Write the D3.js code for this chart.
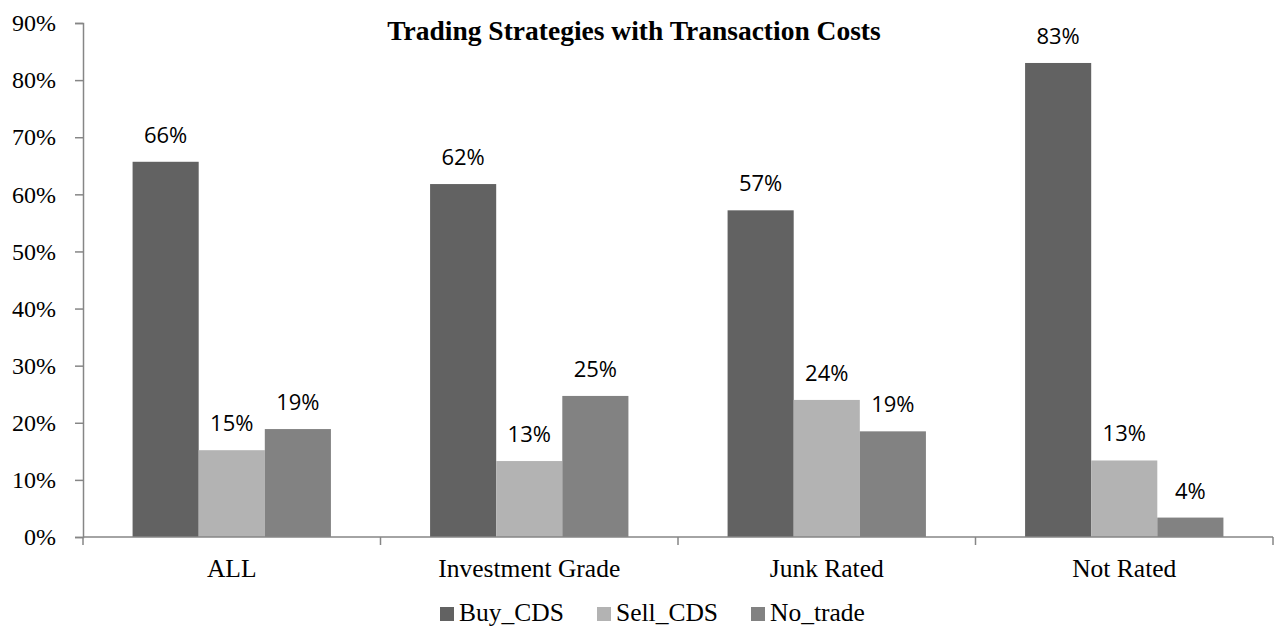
<!DOCTYPE html>
<html><head><meta charset="utf-8">
<script src="https://cdn.jsdelivr.net/npm/d3@7"></script>
<style>html,body{margin:0;padding:0;background:#fff;}svg{display:block;}</style>
</head><body><div id="chart"></div>
<script>
const categories = ["ALL", "Investment Grade", "Junk Rated", "Not Rated"];
const seriesNames = ["Buy_CDS", "Sell_CDS", "No_trade"];
const buyCDS = [0.657, 0.618, 0.572, 0.830];
const sellCDS = [0.152, 0.133, 0.240, 0.134];
const noTrade = [0.189, 0.247, 0.185, 0.034];
const valueLabels = [["66%", "15%", "19%"], ["62%", "13%", "25%"], ["57%", "24%", "19%"], ["83%", "13%", "4%"]];
const yTicks = [0, 0.1, 0.2, 0.3, 0.4, 0.5, 0.6, 0.7, 0.8, 0.9];
const title = "Trading Strategies with Transaction Costs";
const colors = ["#626262", "#b3b3b3", "#828282"];

const W = 1276, H = 635;
const svg = d3.select("#chart").append("svg").attr("width", W).attr("height", H);
const m = {left: 83, right: 3, top: 23, bottom: 98};
const x0 = d3.scaleBand().domain(categories).range([m.left, W - m.right]).paddingInner(1/3).paddingOuter(1/6);
const x1 = d3.scaleBand().domain(seriesNames).range([0, x0.bandwidth()]);
const y = d3.scaleLinear().domain([0, 0.9]).range([H - m.bottom, m.top]);
const color = d3.scaleOrdinal().domain(seriesNames).range(colors);
const seriesValues = [buyCDS, sellCDS, noTrade];

const data = categories.map((c, i) => ({cat: c, vals: seriesNames.map((s, j) => ({s, v: seriesValues[j][i], lab: valueLabels[i][j]}))}));

const axisColor = "#868686";
const serif = "'Liberation Serif','Times New Roman',serif";
// Y axis
const yAxis = d3.axisLeft(y).tickValues(yTicks).tickFormat(d3.format(".0%")).tickSize(8).tickPadding(19);
const gy = svg.append("g").attr("transform", `translate(${m.left},0)`).call(yAxis);
gy.select(".domain").attr("stroke", axisColor).attr("stroke-width", 1.5);
gy.selectAll(".tick line").attr("stroke", axisColor).attr("stroke-width", 1.5);
gy.selectAll(".tick text").attr("font-family", serif).attr("font-size", 24).attr("fill", "#000");

// Bars
const groups = svg.append("g").selectAll("g").data(data).join("g")
  .attr("transform", d => `translate(${x0(d.cat)},0)`);
groups.selectAll("rect").data(d => d.vals).join("rect")
  .attr("x", d => x1(d.s)).attr("width", x1.bandwidth())
  .attr("y", d => y(d.v)).attr("height", d => y(0) - y(d.v))
  .attr("fill", d => color(d.s));
groups.selectAll("text").data(d => d.vals).join("text")
  .attr("x", d => x1(d.s) + x1.bandwidth() / 2)
  .attr("y", d => y(d.v) - 19)
  .attr("text-anchor", "middle")
  .attr("font-family", "'Open Sans','Liberation Sans',sans-serif").attr("font-size", 22).attr("fill", "#000")
  .text(d => d.lab);

// X axis
const xAxisG = svg.append("g").attr("transform", `translate(0,${y(0)})`);
xAxisG.append("line").attr("x1", m.left).attr("x2", W - m.right).attr("y1", 0).attr("y2", 0).attr("stroke", axisColor).attr("stroke-width", 1.5);
const boundaries = categories.map(c => x0(c) - x0.step() * x0.paddingInner() / 2).concat([W - m.right]);
boundaries[0] = m.left;
xAxisG.selectAll("line.tk").data(boundaries).join("line").attr("class", "tk")
  .attr("x1", d => d).attr("x2", d => d).attr("y1", 0).attr("y2", 8).attr("stroke", axisColor).attr("stroke-width", 1.5);
xAxisG.selectAll("text").data(categories).join("text")
  .attr("x", d => x0(d) + x0.bandwidth() / 2).attr("y", 40)
  .attr("text-anchor", "middle")
  .attr("font-family", serif).attr("font-size", 25.5).attr("fill", "#000")
  .text(d => d);

// Title
svg.append("text").attr("x", 634).attr("y", 40).attr("text-anchor", "middle")
  .attr("font-family", serif).attr("font-weight", "bold").attr("font-size", 27.5)
  .text(title);

// Legend
const legendX = [440, 597, 751];
const lg = svg.append("g").selectAll("g").data(seriesNames).join("g")
  .attr("transform", (d, i) => `translate(${legendX[i]},621)`);
lg.append("rect").attr("x", 0).attr("y", -14).attr("width", 14).attr("height", 14).attr("fill", d => color(d));
lg.append("text").attr("x", 19).attr("y", 0)
  .attr("font-family", serif).attr("font-size", 25.5).attr("fill", "#000")
  .text(d => d);
</script></body></html>
